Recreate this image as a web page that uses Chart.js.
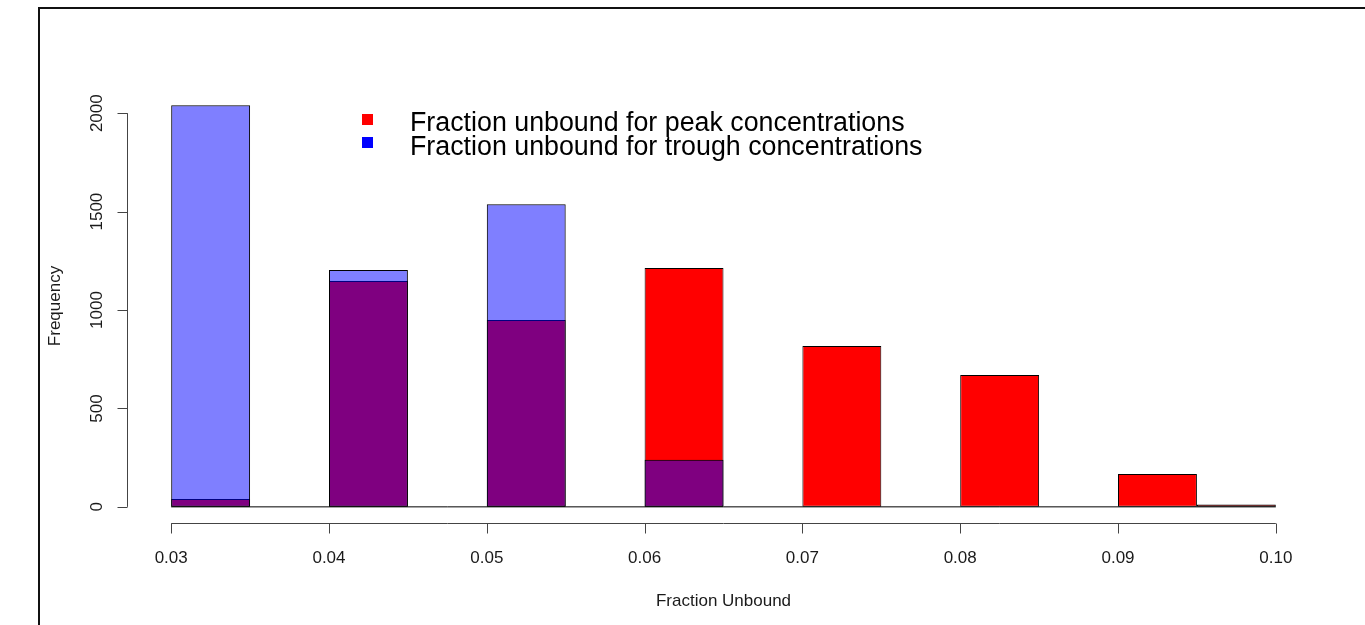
<!DOCTYPE html>
<html>
<head>
<meta charset="utf-8">
<script src="https://cdn.jsdelivr.net/npm/chart.js@4.4.0/dist/chart.umd.min.js"></script>
<style>
  html, body { margin: 0; padding: 0; background: #fff; }
  canvas { display: block; }
</style>
</head>
<body>
<canvas id="hist" width="1365" height="625"></canvas>
<script>
// histogram bins (left edges, width 0.005)
const binStarts = [0.030, 0.035, 0.040, 0.045, 0.050, 0.055, 0.060, 0.065, 0.070, 0.075, 0.080, 0.085, 0.090, 0.095];
const binWidth = 0.005;
// counts
const peakCounts   = [40, 0, 1147, 0, 949, 0, 1213, 0, 817, 0, 670, 0, 167, 12];
const troughCounts = [2041, 0, 1203, 0, 1538, 0, 239, 0, 0, 0, 0, 0, 0, 0];

const xTicks = [0.03, 0.04, 0.05, 0.06, 0.07, 0.08, 0.09, 0.10];
const yTicks = [0, 500, 1000, 1500, 2000];

const seriesNames = ['Fraction unbound for peak concentrations', 'Fraction unbound for trough concentrations'];
const xTitle = 'Fraction Unbound';
const yTitle = 'Frequency';

const FONT = '"Liberation Sans", Arial, sans-serif';

function toPoints(counts){
    return counts.map((c, i) => ({x: binStarts[i] + binWidth / 2, y: c}));
}

// R style axes, frame and legend
const rStyle = {
    id: 'rStyle',
    beforeDraw(chart){
        const ctx = chart.ctx;
        ctx.save();
        ctx.fillStyle = '#fff';
        ctx.fillRect(0, 0, chart.width, chart.height);
        ctx.fillStyle = '#111';
        ctx.fillRect(38, 7, 2, chart.height - 7);
        ctx.fillRect(38, 7, chart.width - 38, 2);
        ctx.restore();
    },
    afterDraw(chart){
        const ctx = chart.ctx;
        const x = chart.scales.x, y = chart.scales.y;
        const area = chart.chartArea;
        ctx.save();
        ctx.strokeStyle = '#444';
        ctx.lineWidth = 1;

        // x axis
        const ax = Math.round(area.bottom) + 0.5;
        ctx.beginPath();
        ctx.moveTo(x.getPixelForValue(xTicks[0]), ax);
        ctx.lineTo(x.getPixelForValue(xTicks[xTicks.length - 1]), ax);
        xTicks.forEach(t => {
            const px = Math.round(x.getPixelForValue(t)) + 0.5;
            ctx.moveTo(px, ax);
            ctx.lineTo(px, ax + 10);
        });
        // y axis
        const ay = Math.round(area.left) + 0.5;
        ctx.moveTo(ay, y.getPixelForValue(yTicks[0]));
        ctx.lineTo(ay, y.getPixelForValue(yTicks[yTicks.length - 1]));
        yTicks.forEach(t => {
            const py = Math.round(y.getPixelForValue(t)) + 0.5;
            ctx.moveTo(ay, py);
            ctx.lineTo(ay - 10, py);
        });
        ctx.stroke();

        ctx.fillStyle = '#1a1a1a';
        ctx.font = '17px ' + FONT;
        ctx.textAlign = 'center';
        ctx.textBaseline = 'alphabetic';
        xTicks.forEach(t => {
            ctx.fillText(t.toFixed(2), x.getPixelForValue(t), 563);
        });
        ctx.fillText(xTitle, (x.getPixelForValue(xTicks[0]) + x.getPixelForValue(xTicks[xTicks.length - 1])) / 2, 606);

        yTicks.forEach(t => {
            ctx.save();
            ctx.translate(102, y.getPixelForValue(t));
            ctx.rotate(-Math.PI / 2);
            ctx.fillText(String(t), 0, 0);
            ctx.restore();
        });
        ctx.save();
        ctx.translate(60, (area.top + area.bottom) / 2);
        ctx.rotate(-Math.PI / 2);
        ctx.fillText(yTitle, 0, 0);
        ctx.restore();

        // legend
        const legendColors = ['#ff0000', '#0000ff'];
        ctx.font = '26.8px ' + FONT;
        ctx.textAlign = 'left';
        seriesNames.forEach((name, i) => {
            ctx.fillStyle = legendColors[i];
            ctx.fillRect(362, 114 + i * 23, 11, 11);
            ctx.fillStyle = '#000';
            ctx.fillText(name, 410, 131 + i * 24);
        });
        ctx.restore();
    }
};

const ctx = document.getElementById('hist').getContext('2d');
const histChart = new Chart(ctx, {
    type: 'bar',
    data: {
        datasets: [{
            label: seriesNames[0],
            data: toPoints(peakCounts),
            backgroundColor: '#ff0000',
            borderColor: '#000',
            borderWidth: 1,
            borderSkipped: false,
            inflateAmount: 0,
            barPercentage: 1,
            categoryPercentage: 1,
            order: 3
        }, {
            label: seriesNames[1],
            data: toPoints(troughCounts),
            backgroundColor: 'rgba(0, 0, 255, 0.5)',
            borderColor: '#000',
            borderWidth: 1,
            borderSkipped: false,
            inflateAmount: 0,
            barPercentage: 1,
            categoryPercentage: 1,
            order: 2
        }, {
            type: 'line',
            label: 'baseline',
            data: [{x: binStarts[0], y: 0}, {x: binStarts[binStarts.length - 1] + binWidth, y: 0}],
            borderColor: '#000',
            borderWidth: 1,
            pointRadius: 0,
            order: 1
        }]
    },
    options: {
        responsive: false,
        animation: false,
        devicePixelRatio: 1,
        layout: { padding: { left: 127, top: 89, right: 45, bottom: 102 } },
        datasets: { bar: { grouped: false } },
        plugins: { legend: { display: false }, tooltip: { enabled: false } },
        scales: {
            x: { type: 'linear', min: 0.0272, max: 0.1028, offset: false, display: false },
            y: { min: -82, max: 2123, display: false }
        }
    },
    plugins: [rStyle]
});
</script>
</body>
</html>
